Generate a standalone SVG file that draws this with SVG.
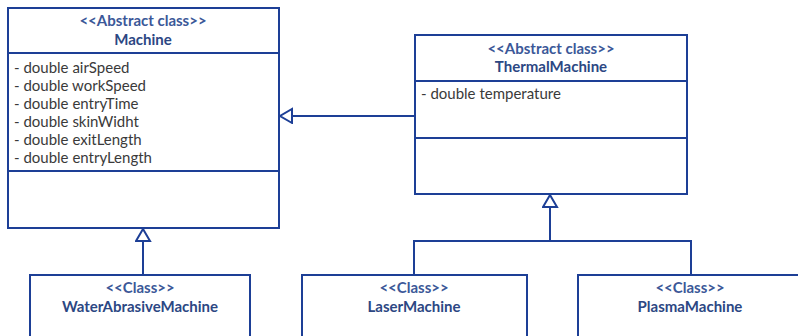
<svg xmlns="http://www.w3.org/2000/svg" width="798" height="336" viewBox="0 0 798 336">
<defs>
<style>
.box{fill:#fff;stroke:#1d3f96;stroke-width:2}
.ln{fill:none;stroke:#1d3f96;stroke-width:2}
.st{font-family:Lato,"Open Sans",sans-serif;font-size:15px;font-weight:bold;fill:#3b5898;text-anchor:middle}
.nm{font-family:Lato,"Open Sans",sans-serif;font-size:15px;font-weight:bold;fill:#2c4783;text-anchor:middle}
.at{font-family:Lato,"Open Sans",sans-serif;font-size:15px;fill:#3a3a3a}
</style>
<marker id="gen" markerWidth="16" markerHeight="18" refX="13" refY="8" orient="auto" markerUnits="userSpaceOnUse">
<path d="M1,1 L13,8 L1,15 Z" fill="#fff" stroke="#1d3f96" stroke-width="2"/>
</marker>
</defs>
<rect width="798" height="336" fill="#fff"/>
<g id="connectors">
<path class="ln" d="M415,116 H280" marker-end="url(#gen)"/>
<path class="ln" d="M143,275 V229" marker-end="url(#gen)"/>
<path class="ln" d="M550,241 V195" marker-end="url(#gen)"/>
<path class="ln" d="M414,275 V241 H691 V275"/>
</g>
<g id="Machine">
<rect class="box" x="8" y="8" width="271" height="220"/>
<line class="ln" x1="8" y1="53" x2="279" y2="53"/>
<line class="ln" x1="8" y1="171" x2="279" y2="171"/>
<text class="st" x="143" y="26">&lt;&lt;Abstract class&gt;&gt;</text>
<text class="nm" x="143" y="45">Machine</text>
<text class="at" x="14" y="73">- double airSpeed</text>
<text class="at" x="14" y="91">- double workSpeed</text>
<text class="at" x="14" y="109">- double entryTime</text>
<text class="at" x="14" y="127">- double skinWidht</text>
<text class="at" x="14" y="145">- double exitLength</text>
<text class="at" x="14" y="163">- double entryLength</text>
</g>
<g id="ThermalMachine">
<rect class="box" x="415" y="35" width="272" height="159"/>
<line class="ln" x1="415" y1="81" x2="687" y2="81"/>
<line class="ln" x1="415" y1="138" x2="687" y2="138"/>
<text class="st" x="551" y="54">&lt;&lt;Abstract class&gt;&gt;</text>
<text class="nm" x="551" y="72">ThermalMachine</text>
<text class="at" x="421" y="99">- double temperature</text>
</g>
<g id="WaterAbrasiveMachine">
<rect class="box" x="30" y="275" width="220" height="70"/>
<text class="st" x="140" y="293">&lt;&lt;Class&gt;&gt;</text>
<text class="nm" x="140" y="312">WaterAbrasiveMachine</text>
</g>
<g id="LaserMachine">
<rect class="box" x="302" y="275" width="225" height="70"/>
<text class="st" x="414" y="293">&lt;&lt;Class&gt;&gt;</text>
<text class="nm" x="414" y="312">LaserMachine</text>
</g>
<g id="PlasmaMachine">
<rect class="box" x="578" y="275" width="240" height="70"/>
<text class="st" x="690" y="293">&lt;&lt;Class&gt;&gt;</text>
<text class="nm" x="690" y="312">PlasmaMachine</text>
</g>
</svg>
